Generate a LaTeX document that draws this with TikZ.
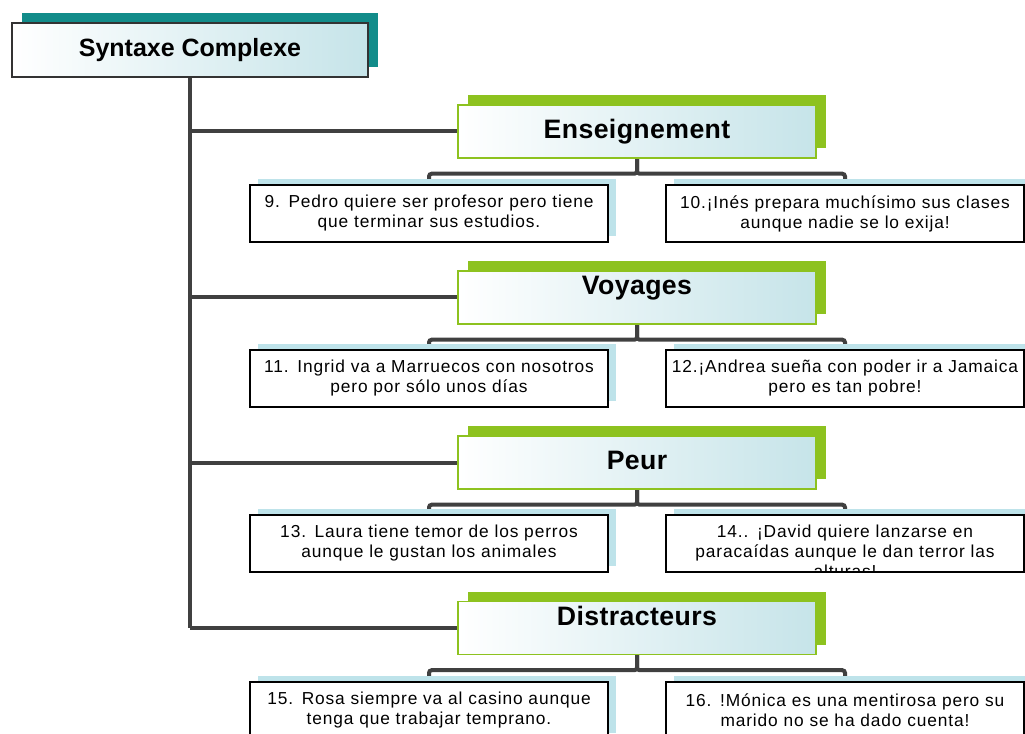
\documentclass[tikz,border=0pt]{standalone}
\usepackage{fontspec}
\setmainfont{Liberation Sans}
\newfontfamily\leaffont[LetterSpace=5]{Liberation Sans}
\newfontfamily\catfont[LetterSpace=1.5]{Liberation Sans}
\usetikzlibrary{shadows, backgrounds}
\definecolor{rootteal}{HTML}{128C8A}
\definecolor{catgreen}{HTML}{8DC21F}
\definecolor{boxtint}{HTML}{C6E4E9}
\definecolor{leafshade}{HTML}{BEE3EA}
\definecolor{linkgray}{HTML}{404040}
\definecolor{rootborder}{HTML}{333333}

\tikzset{
  rootbox/.style={draw=rootborder, line width=1pt, left color=white, right color=boxtint,
    minimum width=267pt, minimum height=40.5pt, inner sep=0pt,
    font=\bfseries\fontsize{18.75}{22}\selectfont,
    general shadow={fill=rootteal, shadow xshift=7.5pt, shadow yshift=7.5pt}},
  catbox/.style={draw=catgreen, line width=1.1pt, left color=white, right color=boxtint,
    minimum width=268.5pt, minimum height=39.75pt, inner sep=0pt,
    text height=14.5pt, text depth=4pt,
    font=\catfont\bfseries\fontsize{20}{24}\selectfont,
    general shadow={fill=catgreen, shadow xshift=7.5pt, shadow yshift=7.5pt}},
  catraised/.style={text depth=19pt},
  leafbox/.style={draw=black, line width=0.9pt, fill=white,
    minimum width=268.5pt, minimum height=42.75pt, inner sep=0pt,
    text width=264pt, align=center,
    font=\leaffont\fontsize{13}{15}\selectfont,
    general shadow={fill=leafshade, shadow xshift=6pt, shadow yshift=4.5pt}},
  leaftext/.style={inner sep=0pt, text width=264pt, align=center,
    font=\leaffont\fontsize{13}{15}\selectfont},
  link/.style={draw=linkgray, line width=3pt, rounded corners=2pt}
}

\begin{document}
\begin{tikzpicture}[x=0.75pt, y=-0.75pt]
  \useasboundingbox (0,0) rectangle (1025,734);
  \clip (0,0) rectangle (1025,734);

  % root
  \node[rootbox] (root) at (190,50) {Syntaxe Complexe};

  % categories
  \node[catbox] (cE) at (637,131.5) {Enseignement};
  \node[catbox, catraised] (cV) at (637,297.5) {Voyages};
  \node[catbox] (cP) at (637,462.5) {Peur};
  \node[catbox, catraised] (cD) at (637,628) {Distracteurs};

  % examples
  \node[leafbox] (l9) at (429,213.5) {9. Pedro quiere ser profesor pero tiene\\que terminar sus estudios.};
  \node[leafbox] (l10) at (845,213.5) {10.¡Inés prepara muchísimo sus clases\\aunque nadie se lo exija!};
  \node[leafbox] (l11) at (429,378.5) {11. Ingrid va a Marruecos con nosotros\\pero por sólo unos días};
  \node[leafbox] (l12) at (845,378.5) {12.¡Andrea sueña con poder ir a Jamaica\\pero es tan pobre!};
  \node[leafbox] (l13) at (429,543.5) {13. Laura tiene temor de los perros\\aunque le gustan los animales};
  \node[leafbox] (l14) at (845,543.5) {};
  \begin{scope}
    \clip (l14.north west) rectangle (l14.south east);
    \node[leaftext, anchor=north] (t14) at ([yshift=-7.5pt]l14.north)
      {14.. ¡David quiere lanzarse en\\paracaídas aunque le dan terror las\\alturas!};
  \end{scope}
  \node[leafbox] (l15) at (429,710.5) {15. Rosa siempre va al casino aunque\\tenga que trabajar temprano.};
  \node[leafbox] (l16) at (845,710.5) {16. !Mónica es una mentirosa pero su\\marido no se ha dado cuenta!};

  % connectors
  \begin{scope}[on background layer]
    \draw[link, rounded corners=0pt] (root.south) -- (root.south |- cD.west);
    \foreach \c in {cE, cV, cP, cD}
      \draw[link, rounded corners=0pt] (root.south |- \c.west) -- (\c.west);
    \draw[link] (cE.south) -- ++(0,15) -| (l9.north);
    \draw[link] (cE.south) -- ++(0,15) -| (l10.north);
    \draw[link] (cV.south) -- ++(0,15) -| (l11.north);
    \draw[link] (cV.south) -- ++(0,15) -| (l12.north);
    \draw[link] (cP.south) -- ++(0,15) -| (l13.north);
    \draw[link] (cP.south) -- ++(0,15) -| (l14.north);
    \draw[link] (cD.south) -- ++(0,15) -| (l15.north);
    \draw[link] (cD.south) -- ++(0,15) -| (l16.north);
  \end{scope}
\end{tikzpicture}
\end{document}
